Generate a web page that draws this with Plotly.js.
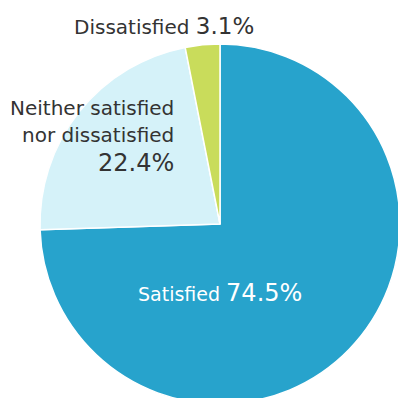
<!DOCTYPE html>
<html>
<head>
<meta charset="utf-8">
<script src="https://cdn.plot.ly/plotly-3.0.1.min.js"></script>
<style>
html, body { margin: 0; padding: 0; overflow: hidden; background: #fff; }
#chart { width: 400px; height: 404px; }
</style>
</head>
<body>
<div id="chart"></div>
<script>
const labels = ["Satisfied", "Neither satisfied nor dissatisfied", "Dissatisfied"];
const labelLines = [["Satisfied"], ["Neither satisfied", "nor dissatisfied"], ["Dissatisfied"]];
const values = [74.5, 22.4, 3.1];
const colors = ["#27a3cc", "#d5f2f9", "#c9dc5b"];

const pct = v => v.toFixed(1) + "%";
const FONT = "DejaVu Sans, Verdana, sans-serif";

// pixel -> paper helpers (plot area: l=40, t=44, 360x360)
const px = x => (x - 40) / 360;
const py = y => 1 - (y - 44) / 360;

const annotations = [
  {
    text: labelLines[0][0] + ' <span style="font-size:24px">' + pct(values[0]) + '</span>',
    x: px(220), y: py(293), xanchor: "center", yanchor: "middle",
    font: { family: FONT, size: 19, color: "#ffffff" }
  },
  {
    text: labelLines[1][0],
    x: px(176), y: py(108), xanchor: "right", yanchor: "middle",
    font: { family: FONT, size: 20, color: "#333333" }
  },
  {
    text: labelLines[1][1],
    x: px(176), y: py(135), xanchor: "right", yanchor: "middle",
    font: { family: FONT, size: 20, color: "#333333" }
  },
  {
    text: pct(values[1]),
    x: px(176), y: py(163), xanchor: "right", yanchor: "middle",
    font: { family: FONT, size: 24, color: "#333333" }
  },
  {
    text: labelLines[2][0] + ' <span style="font-size:23px">' + pct(values[2]) + '</span>',
    x: px(164), y: py(26), xanchor: "center", yanchor: "middle",
    font: { family: FONT, size: 20, color: "#333333" }
  }
].map(a => Object.assign({ xref: "paper", yref: "paper", showarrow: false }, a));

const trace = {
  type: "pie",
  labels: labels,
  values: values,
  sort: false,
  direction: "clockwise",
  rotation: 0,
  textinfo: "none",
  hoverinfo: "label+percent",
  marker: { colors: colors, line: { color: "#ffffff", width: 1.5 } }
};

Plotly.newPlot("chart", [trace], {
  width: 400,
  height: 404,
  margin: { l: 40, r: 0, t: 44, b: 0, pad: 0 },
  showlegend: false,
  paper_bgcolor: "#ffffff",
  annotations: annotations
}, { displayModeBar: false, staticPlot: true });
</script>
</body>
</html>
